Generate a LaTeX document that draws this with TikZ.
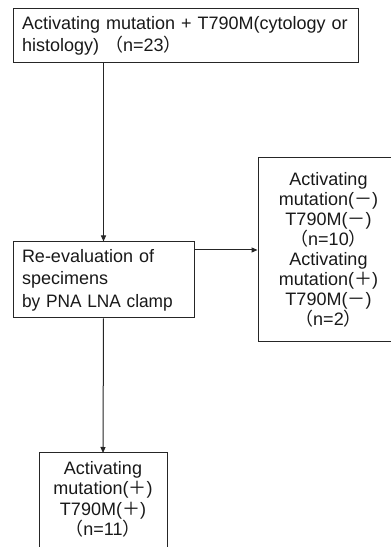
\documentclass[tikz,border=0pt]{standalone}
\usepackage{fontspec}
\usepackage{graphicx}
\setmainfont{Liberation Sans}
\newfontfamily\cjk{Noto Sans CJK JP}
\usetikzlibrary{arrows.meta}
\newcommand{\fl}{{\cjk （}}
\newcommand{\fr}{{\cjk ）}}
\newcommand{\fp}{{\cjk ＋}}
\newcommand{\fm}{{\cjk －}}
\tikzset{
  box/.style={draw=black!85, line width=1pt, fill=white, text=black!90, inner ysep=0pt},
  conn/.style={draw=black!85, line width=1pt, -{Triangle[length=6pt,width=5pt]}},
}
\begin{document}
\begin{tikzpicture}[x=1pt,y=1pt]
\useasboundingbox (0,0) rectangle (391,547);
\clip (0,0) rectangle (391,547);
\fill[white] (0,0) rectangle (391,547);
% top box
\node[box, minimum width=345, minimum height=54, text width=327, inner xsep=9pt, align=left,
  font=\fontsize{18}{22}\selectfont] (top) at (185.5,511)
  {Activating mutation + T790M(cytology or\\histology) \fl n=23\fr};
% middle box
\node[box, minimum width=181, minimum height=76, text width=163, inner xsep=9pt, align=left,
  font=\fontsize{18}{22.5}\selectfont] (mid) at (103.5,267)
  {Re-evaluation of\\specimens\\\scalebox{0.96}[1]{by PNA LNA clamp}};
% right box
\node[box, minimum width=141, minimum height=184, text width=130, inner xsep=5pt, align=center,
  font=\fontsize{18}{20}\selectfont] (right) at (328.5,297)
  {Activating\\mutation(\fm)\\T790M(\fm)\\\fl n=10\fr\\Activating\\mutation(\fp)\\T790M(\fm)\\\fl n=2\fr};
% bottom box (extends past the lower edge)
\node[text=black!90, anchor=north, text width=128, inner xsep=0pt, inner ysep=8pt, align=center,
  font=\fontsize{18}{20.5}\selectfont] (bot) at (103,94)
  {Activating\\mutation(\fp)\\T790M(\fp)\\\fl n=11\fr};
\draw[draw=black!85, line width=1pt] ([xshift=-64pt]bot.north) -- ++(0,-120)
  ([xshift=-64pt]bot.north) -- ([xshift=64pt]bot.north) -- ++(0,-120);
% connectors
\draw[conn] (mid.north |- top.south) -- (mid.north);
\draw[conn] (mid.east |- right.west) -- (right.west);
\draw[conn] (mid.south) -- (bot.north);
\end{tikzpicture}
\end{document}
